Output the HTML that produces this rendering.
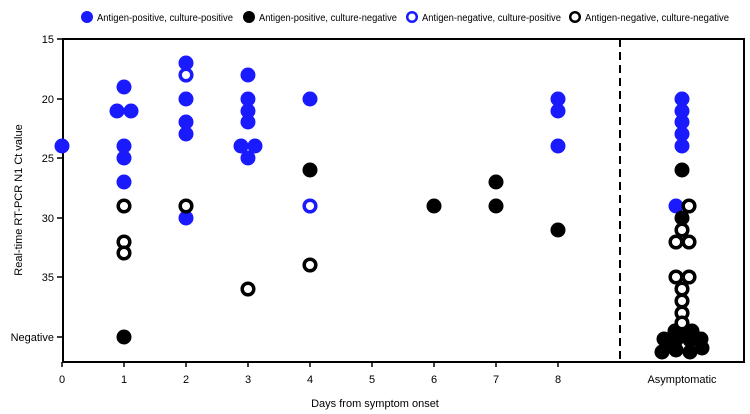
<!DOCTYPE html>
<html><head><style>body{margin:0;background:#fff}svg{display:block}text{font-family:"Liberation Sans",sans-serif;fill:#000}</style></head><body>
<svg width="750" height="414" xmlns="http://www.w3.org/2000/svg">
<g font-size="10">
<circle cx="87" cy="17" r="6" fill="#1a1aff"/><text x="97" y="21" textLength="136" lengthAdjust="spacingAndGlyphs">Antigen-positive, culture-positive</text>
<circle cx="249" cy="17" r="6" fill="#000"/><text x="259" y="21" textLength="138" lengthAdjust="spacingAndGlyphs">Antigen-positive, culture-negative</text>
<circle cx="412" cy="17" r="4.8" fill="none" stroke="#1a1aff" stroke-width="2.5"/><text x="422" y="21" textLength="139" lengthAdjust="spacingAndGlyphs">Antigen-negative, culture-positive</text>
<circle cx="575" cy="17" r="4.8" fill="none" stroke="#000" stroke-width="2.5"/><text x="585" y="21" textLength="144" lengthAdjust="spacingAndGlyphs">Antigen-negative, culture-negative</text>
</g>
<rect x="63" y="39" width="681" height="323" fill="none" stroke="#000" stroke-width="2"/>
<line x1="620" y1="39" x2="620" y2="362" stroke="#000" stroke-width="2" stroke-dasharray="8,5"/>
<g stroke="#000" stroke-width="1.5">
<line x1="57" y1="39" x2="63" y2="39"/><line x1="57" y1="99" x2="63" y2="99"/><line x1="57" y1="158" x2="63" y2="158"/><line x1="57" y1="218" x2="63" y2="218"/><line x1="57" y1="277" x2="63" y2="277"/><line x1="57" y1="337" x2="63" y2="337"/>
<line x1="62" y1="362" x2="62" y2="367"/><line x1="124" y1="362" x2="124" y2="367"/><line x1="186" y1="362" x2="186" y2="367"/><line x1="248" y1="362" x2="248" y2="367"/><line x1="310" y1="362" x2="310" y2="367"/><line x1="372" y1="362" x2="372" y2="367"/><line x1="434" y1="362" x2="434" y2="367"/><line x1="496" y1="362" x2="496" y2="367"/><line x1="558" y1="362" x2="558" y2="367"/>
</g>
<g font-size="11" text-anchor="end">
<text x="54" y="43">15</text><text x="54" y="103">20</text><text x="54" y="162">25</text><text x="54" y="222">30</text><text x="54" y="281">35</text><text x="54" y="341">Negative</text>
</g>
<g font-size="11" text-anchor="middle">
<text x="62" y="383">0</text><text x="124" y="383">1</text><text x="186" y="383">2</text><text x="248" y="383">3</text><text x="310" y="383">4</text><text x="372" y="383">5</text><text x="434" y="383">6</text><text x="496" y="383">7</text><text x="558" y="383">8</text><text x="682" y="383">Asymptomatic</text>
<text x="375" y="407">Days from symptom onset</text>
<text transform="translate(22,200) rotate(-90)">Real-time RT-PCR N1 Ct value</text>
</g>
<g fill="#1a1aff">
<circle cx="62" cy="146" r="7.5"/>
<circle cx="124" cy="87" r="7.5"/><circle cx="117" cy="111" r="7.5"/><circle cx="131" cy="111" r="7.5"/><circle cx="124" cy="146" r="7.5"/><circle cx="124" cy="158" r="7.5"/><circle cx="124" cy="182" r="7.5"/>
<circle cx="186" cy="63" r="7.5"/><circle cx="186" cy="99" r="7.5"/><circle cx="186" cy="122" r="7.5"/><circle cx="186" cy="134" r="7.5"/><circle cx="186" cy="218" r="7.5"/>
<circle cx="248" cy="75" r="7.5"/><circle cx="248" cy="99" r="7.5"/><circle cx="248" cy="111" r="7.5"/><circle cx="248" cy="122" r="7.5"/><circle cx="241" cy="146" r="7.5"/><circle cx="255" cy="146" r="7.5"/><circle cx="248" cy="158" r="7.5"/>
<circle cx="310" cy="99" r="7.5"/>
<circle cx="558" cy="99" r="7.5"/><circle cx="558" cy="111" r="7.5"/><circle cx="558" cy="146" r="7.5"/>
<circle cx="682" cy="99" r="7.5"/><circle cx="682" cy="111" r="7.5"/><circle cx="682" cy="122" r="7.5"/><circle cx="682" cy="134" r="7.5"/><circle cx="682" cy="146" r="7.5"/><circle cx="676" cy="206" r="7.5"/>
</g>
<g fill="#000">
<circle cx="124" cy="337" r="7.5"/><circle cx="310" cy="170" r="7.5"/>
<circle cx="434" cy="206" r="7.5"/><circle cx="496" cy="182" r="7.5"/><circle cx="496" cy="206" r="7.5"/><circle cx="558" cy="230" r="7.5"/>
<circle cx="682" cy="170" r="7.5"/><circle cx="682" cy="218" r="7.5"/>
<circle cx="675" cy="331" r="7.5"/><circle cx="684" cy="331" r="7.5"/><circle cx="692" cy="331" r="7.5"/>
<circle cx="664" cy="339" r="7.5"/><circle cx="676" cy="340" r="7.5"/><circle cx="690" cy="340" r="7.5"/><circle cx="701" cy="339" r="7.5"/>
<circle cx="662" cy="352" r="7.5"/><circle cx="676" cy="350" r="7.5"/><circle cx="690" cy="352" r="7.5"/><circle cx="702" cy="348" r="7.5"/><circle cx="668" cy="346" r="7.5"/>
</g>
<g fill="none" stroke="#1a1aff" stroke-width="3.5">
<circle cx="186" cy="75" r="5.8"/><circle cx="310" cy="206" r="5.8"/>
</g>
<g fill="#fff" stroke="#000" stroke-width="3.5">
<circle cx="124" cy="206" r="5.8"/><circle cx="124" cy="242" r="5.8"/><circle cx="124" cy="253" r="5.8"/>
<circle cx="186" cy="206" r="5.8"/><circle cx="248" cy="289" r="5.8"/><circle cx="310" cy="265" r="5.8"/>
<circle cx="689" cy="206" r="5.8"/><circle cx="682" cy="230" r="5.8"/><circle cx="676" cy="242" r="5.8"/><circle cx="689" cy="242" r="5.8"/>
<circle cx="676" cy="277" r="5.8"/><circle cx="689" cy="277" r="5.8"/><circle cx="682" cy="289" r="5.8"/><circle cx="682" cy="301" r="5.8"/><circle cx="682" cy="313" r="5.8"/><circle cx="682" cy="323" r="5.8"/>
</g>
</svg>
</body></html>
